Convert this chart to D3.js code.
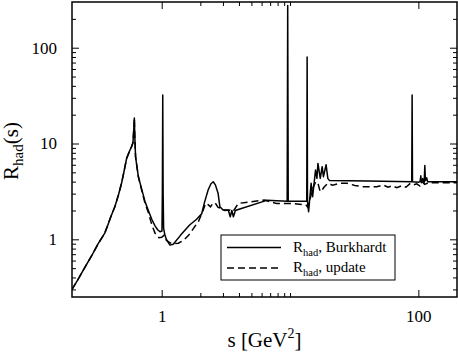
<!DOCTYPE html>
<html>
<head>
<meta charset="utf-8">
<script src="https://cdn.jsdelivr.net/npm/d3@7"></script>
<style>
  body { margin: 0; background: #fff; }
  svg text { font-family: "Liberation Serif", "Times New Roman", Times, "DejaVu Serif", serif; fill: #000; }
</style>
</head>
<body>
<div id="chart"></div>
<script>
// R_had(s) values

var sBurk = [0.2, 0.22, 0.25, 0.284, 0.32, 0.36, 0.38, 0.4, 0.432, 0.46, 0.487, 0.51, 0.533, 0.565, 0.583, 0.597,
    0.606, 0.612, 0.617, 0.626, 0.658, 0.7, 0.74, 0.787, 0.84, 0.887, 0.93, 0.97, 1.005, 1.012,
    1.019, 1.026, 1.035, 1.06, 1.094, 1.16, 1.23, 1.4, 1.65, 1.87, 2.05, 2.15, 2.3, 2.42, 2.52,
    2.62, 2.75, 2.84, 3.01, 3.3, 3.42, 3.52, 3.62, 3.75, 3.95, 6.58, 9.5, 9.59, 9.68, 13.3, 13.5,
    13.59, 13.68, 13.95, 14.6, 15.0, 15.8, 16.2, 16.5, 17.2, 17.8, 18.2, 19.1, 19.7, 20.3, 40, 88.8,
    89.4, 90.0, 100, 103, 104.5, 105.5, 108, 111, 112.3, 113.5, 116, 118, 200];
var rBurk = [0.3, 0.37, 0.5, 0.67, 0.9, 1.16, 1.4, 1.7, 2.2, 2.9, 3.87, 5.2, 7.0, 8.5, 9.3, 10.2,
    14, 18.5, 12, 7.2, 4.5, 3.3, 2.5, 2.0, 1.6, 1.38, 1.26, 1.2, 1.22, 3,
    32, 3, 1.3, 1.1, 0.98, 0.87, 0.89, 1.1, 1.41, 1.62, 1.85, 2.4, 3.27, 3.8, 3.99,
    3.7, 3.02, 2.19, 2.02, 2.02, 1.72, 2.0, 1.72, 2.0, 2.05, 2.55, 2.5, 275, 2.5, 2.5, 2.5,
    80, 2.5, 1.94, 3.84, 2.78, 5.29, 4.33, 6.2, 4.33, 5.73, 4.5, 6.0, 4.33, 4.1, 4.05, 4.0,
    32, 4.0, 3.95, 4.0, 4.6, 3.9, 4.3, 3.9, 5.9, 4.1, 4.4, 4.0, 4.0];

var sUpd = [0.2, 0.22, 0.25, 0.284, 0.32, 0.36, 0.38, 0.4, 0.432, 0.46, 0.487, 0.51, 0.533, 0.565, 0.583, 0.597,
    0.606, 0.612, 0.617, 0.626, 0.658, 0.7, 0.74, 0.787, 0.84, 0.89, 0.95, 1.0, 1.04, 1.07, 1.13,
    1.2, 1.35, 1.48, 1.62, 1.77, 1.94, 2.1, 2.2, 2.3, 2.4, 2.52, 2.62, 2.75, 2.92, 3.1, 3.4, 3.6,
    3.95, 6.37, 6.97, 7.86, 10.2, 12.5, 13.3, 13.7, 14.2, 15.0, 15.9, 16.5, 17.0, 17.4, 18.5, 19.7,
    21.4, 24.2, 27.8, 32, 37.2, 47.5, 53.5, 58, 63, 68, 74, 80, 86.6, 92, 97, 103, 108, 112, 120, 200];
var rUpd = [0.3, 0.37, 0.5, 0.67, 0.9, 1.16, 1.4, 1.7, 2.2, 2.9, 3.87, 5.2, 7.0, 8.5, 9.3, 10.2,
    14, 18.5, 12, 7.2, 4.5, 3.2, 2.4, 1.9, 1.4, 1.15, 1.04, 1.05, 1.1, 1.0, 0.94,
    0.9, 0.91, 0.98, 1.1, 1.3, 1.55, 2.0, 2.38, 2.3, 2.18, 2.4, 2.38, 2.15, 2.1, 2.0, 2.02, 1.95,
    2.37, 2.57, 2.47, 2.37, 2.37, 2.3, 2.28, 2.17, 2.5, 3.4, 4.0, 3.86, 3.3, 3.14, 3.54, 3.84,
    3.68, 3.84, 3.84, 3.65, 3.54, 3.54, 3.68, 3.5, 3.62, 3.45, 3.62, 3.5, 3.84, 3.7, 3.8, 3.6, 3.95, 3.75, 3.9, 3.9];

var xMajor = [1, 100];
var xMinor = [2, 3, 4, 5, 6, 7, 8, 9, 10];
var yMajor = [1, 10, 100];
var yMinor = [0.3, 0.4, 0.5, 0.6, 0.7, 0.8, 0.9, 2, 3, 4, 5, 6, 7, 8, 9,
    20, 30, 40, 50, 60, 70, 80, 90, 200];

var seriesNames = ['Burkhardt', 'update'];

var serif = '"Liberation Serif", "Times New Roman", Times, "DejaVu Serif", serif';

// chart dimensions
var width = 458;
var height = 354;
var margin = {top: 2, right: 1, bottom: 57, left: 72};
var w = width - margin.left - margin.right;
var h = height - margin.top - margin.bottom;

var svg = d3.select('#chart')
    .append('svg')
    .attr('width', width)
    .attr('height', height)
    .style('font-family', serif);

var g = svg.append('g')
    .attr('transform', 'translate(' + margin.left + ',' + margin.top + ')');

// scales
var x = d3.scaleLog().domain([0.2, 200]).range([0, w]);
var y = d3.scaleLog().domain([0.25, 300]).range([h, 0]);

g.append('clipPath').attr('id', 'clip')
    .append('rect').attr('width', w).attr('height', h);

// curves
var line = d3.line()
    .x(function(d){ return x(d[0]); })
    .y(function(d){ return y(d[1]); });

var burk = sBurk.map(function(s, i){ return [s, rBurk[i]]; });
var upd = sUpd.map(function(s, i){ return [s, rUpd[i]]; });

g.append('path')
    .datum(burk)
    .attr('clip-path', 'url(#clip)')
    .attr('d', line)
    .attr('fill', 'none')
    .attr('stroke', '#000')
    .attr('stroke-width', 1.5)
    .attr('stroke-linejoin', 'round');

g.append('path')
    .datum(upd)
    .attr('clip-path', 'url(#clip)')
    .attr('d', line)
    .attr('fill', 'none')
    .attr('stroke', '#000')
    .attr('stroke-width', 1.5)
    .attr('stroke-dasharray', '7,4');

// axes, ticks pointing inward on all four sides
function addAxis(axis, ty, tx) {
    var a = g.append('g')
        .attr('transform', 'translate(' + (tx || 0) + ',' + (ty || 0) + ')')
        .call(axis)
        .attr('font-family', null)
        .attr('font-size', null);
    a.select('.domain').remove();
    a.selectAll('line').attr('stroke', '#000').attr('stroke-width', 1);
    a.selectAll('text').style('font-family', serif).style('font-size', '17px');
    return a;
}

var fmt = function(d){ return d3.format('d')(d); };

addAxis(d3.axisBottom(x).tickValues(xMajor).tickSize(-7).tickPadding(13).tickFormat(fmt), h);
addAxis(d3.axisBottom(x).tickValues(xMinor).tickSize(-4).tickFormat(''), h);
addAxis(d3.axisTop(x).tickValues(xMajor).tickSize(-7).tickFormat(''), 0);
addAxis(d3.axisTop(x).tickValues(xMinor).tickSize(-4).tickFormat(''), 0);

addAxis(d3.axisLeft(y).tickValues(yMajor).tickSize(-7).tickPadding(15).tickFormat(fmt), 0, 0);
addAxis(d3.axisLeft(y).tickValues(yMinor).tickSize(-4).tickFormat(''), 0, 0);
addAxis(d3.axisRight(y).tickValues(yMajor).tickSize(-7).tickFormat(''), 0, w);
addAxis(d3.axisRight(y).tickValues(yMinor).tickSize(-4).tickFormat(''), 0, w);

// frame
g.append('rect')
    .attr('width', w)
    .attr('height', h)
    .attr('fill', 'none')
    .attr('stroke', '#000')
    .attr('stroke-width', 1.5);

// axis titles
var xt = svg.append('text')
    .attr('x', margin.left + w / 2)
    .attr('y', 347)
    .attr('text-anchor', 'middle')
    .style('font-size', '21px');
xt.append('tspan').text('s [GeV');
xt.append('tspan').style('font-size', '14px').attr('dy', -9).text('2');
xt.append('tspan').attr('dy', 9).text(']');

var yt = svg.append('text')
    .attr('transform', 'translate(18,151) rotate(-90)')
    .attr('text-anchor', 'middle')
    .style('font-size', '21px');
yt.append('tspan').text('R');
yt.append('tspan').style('font-size', '15px').attr('dy', 5).text('had');
yt.append('tspan').attr('dy', -5).text('(s)');

// legend
var leg = svg.append('g').attr('transform', 'translate(221,235)');
leg.append('rect')
    .attr('width', 174)
    .attr('height', 45)
    .attr('fill', '#fff')
    .attr('stroke', '#000')
    .attr('stroke-width', 1);

seriesNames.forEach(function(name, i){
    var ly = 12.5 + i * 20.5;
    leg.append('line')
        .attr('x1', 6).attr('x2', 60)
        .attr('y1', ly).attr('y2', ly)
        .attr('stroke', '#000')
        .attr('stroke-width', 1.5)
        .attr('stroke-dasharray', i === 1 ? '7,4' : null);
    var t = leg.append('text')
        .attr('x', 72)
        .attr('y', ly + 4)
        .style('font-size', '15px');
    t.append('tspan').text('R');
    t.append('tspan').style('font-size', '10.5px').attr('dy', 4).text('had');
    t.append('tspan').attr('dy', -4).text(', ' + name);
});
</script>
</body>
</html>
